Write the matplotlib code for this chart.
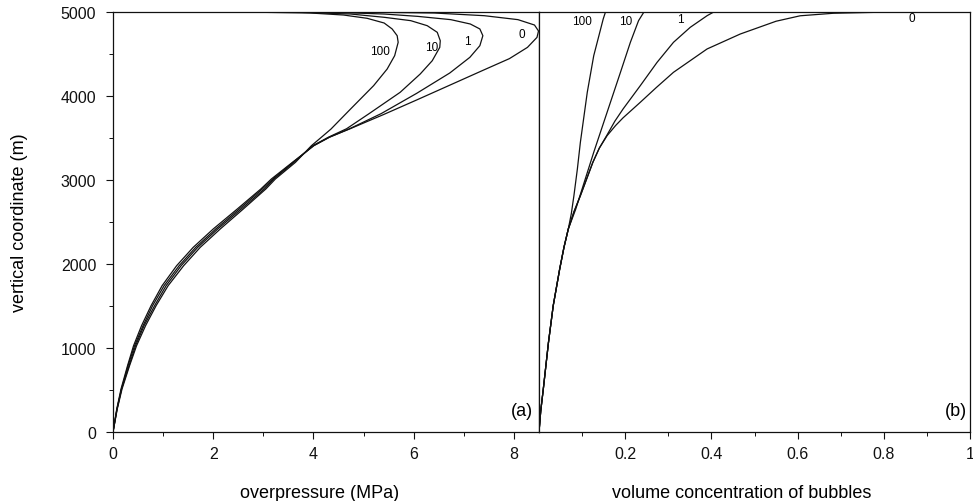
import matplotlib
matplotlib.use("Agg")
import matplotlib.pyplot as plt
from matplotlib.ticker import MultipleLocator

plt.rcParams['font.family'] = ['Liberation Sans', 'DejaVu Sans']

# ---- panel (a): overpressure (MPa) vs vertical coordinate (m) ----
y_low = [0, 274, 512, 789, 1027, 1266, 1504, 1742, 1980, 2198, 2417, 2655, 2893, 3012, 3210]
p0_low = [0, 0.075, 0.16, 0.29, 0.41, 0.57, 0.76, 0.98, 1.27, 1.60, 2.00, 2.48, 2.95, 3.16, 3.58]
p1_low = [0, 0.08, 0.17, 0.30, 0.43, 0.60, 0.79, 1.02, 1.32, 1.65, 2.05, 2.52, 2.98, 3.19, 3.59]
p10_low = [0, 0.08, 0.17, 0.32, 0.45, 0.62, 0.83, 1.06, 1.36, 1.69, 2.09, 2.56, 3.02, 3.21, 3.61]
p100_low = [0, 0.085, 0.18, 0.33, 0.47, 0.65, 0.86, 1.10, 1.41, 1.74, 2.14, 2.60, 3.05, 3.24, 3.64]

y0_up = [3409, 3510, 3610, 3777, 3953, 4129, 4305, 4445, 4579, 4698, 4774, 4845, 4909, 4956, 4988, 4998, 5000]
p0_up = [4.01, 4.32, 4.73, 5.39, 6.06, 6.72, 7.38, 7.91, 8.27, 8.46, 8.49, 8.41, 8.08, 7.41, 6.41, 5.07, 0]
y1_up = [3409, 3510, 3610, 3790, 4032, 4274, 4460, 4599, 4718, 4798, 4857, 4909, 4948, 4976, 4996, 5000]
p1_up = [4.0, 4.32, 4.72, 5.35, 6.06, 6.72, 7.12, 7.32, 7.38, 7.32, 7.13, 6.74, 6.08, 5.41, 4.41, 0]
y10_up = [3409, 3510, 3610, 3786, 4044, 4262, 4420, 4579, 4658, 4758, 4837, 4897, 4937, 4976, 4996, 5000]
p10_up = [3.99, 4.3, 4.66, 5.1, 5.73, 6.13, 6.37, 6.52, 6.53, 6.47, 6.27, 5.94, 5.41, 4.74, 3.74, 0]
y100_up = [3409, 3510, 3607, 3845, 4123, 4321, 4480, 4639, 4718, 4798, 4869, 4925, 4964, 4988, 4997, 5000]
p100_up = [3.96, 4.16, 4.35, 4.74, 5.2, 5.47, 5.62, 5.69, 5.67, 5.57, 5.41, 5.07, 4.6, 3.94, 2.9, 0]

# ---- panel (b): volume concentration of bubbles ----
yb_low = [0, 250, 512, 1068, 1504, 1940, 2200, 2417]
cb_low = [0, 0.004, 0.010, 0.022, 0.033, 0.048, 0.058, 0.068]
y100_b = [2600, 2813, 3130, 3449, 4044, 4480, 4718, 4917, 4996, 5000]
c100_b = [0.075, 0.081, 0.089, 0.096, 0.112, 0.127, 0.139, 0.149, 0.154, 0.145]
y10_b = [2650, 2893, 3330, 3806, 4282, 4639, 4897, 4996, 5000]
c10_b = [0.085, 0.100, 0.127, 0.158, 0.189, 0.212, 0.231, 0.243, 0.22]
y1_b = [2620, 2813, 3211, 3380, 3528, 3700, 3845, 4123, 4401, 4639, 4818, 4956, 4996, 5000]
c1_b = [0.081, 0.096, 0.125, 0.140, 0.157, 0.176, 0.195, 0.235, 0.274, 0.312, 0.351, 0.39, 0.404, 0.365]
y0_b = [2620, 2813, 3211, 3380, 3528, 3650, 3740, 3925, 4100, 4282, 4560, 4738, 4890, 4955, 4985, 4996, 5000]
c0_b = [0.081, 0.096, 0.125, 0.140, 0.158, 0.178, 0.195, 0.235, 0.272, 0.312, 0.39, 0.467, 0.55, 0.606, 0.683, 0.78, 0.86]

curve_names = ['0', '1', '10', '100']
label_pos_a = [(8.16, 4738), (7.08, 4659), (6.35, 4580), (5.32, 4540)]
label_pos_b = [(0.866, 4929), (0.328, 4917), (0.2, 4893), (0.1, 4887)]

fig = plt.figure(figsize=(9.73, 5.02), dpi=100)
ax1 = fig.add_axes([113/973, 69/502, 426/973, 420/502])
ax2 = fig.add_axes([539/973, 69/502, 431/973, 420/502])

lw = 0.9
col = '#111111'
ax1.plot(p0_low + p0_up, y_low + y0_up, color=col, lw=lw)
ax1.plot(p1_low + p1_up, y_low + y1_up, color=col, lw=lw)
ax1.plot(p10_low + p10_up, y_low + y10_up, color=col, lw=lw)
ax1.plot(p100_low + p100_up, y_low + y100_up, color=col, lw=lw)

ax2.plot(cb_low + c0_b, yb_low + y0_b, color=col, lw=lw)
ax2.plot(cb_low + c1_b, yb_low + y1_b, color=col, lw=lw)
ax2.plot(cb_low + c10_b, yb_low + y10_b, color=col, lw=lw)
ax2.plot(cb_low + c100_b, yb_low + y100_b, color=col, lw=lw)

for name, (x, y) in zip(curve_names, label_pos_a):
    ax1.text(x, y, name, fontsize=8.5, ha='center', va='center')
for name, (x, y) in zip(curve_names, label_pos_b):
    ax2.text(x, y, name, fontsize=8.5, ha='center', va='center')

ax1.set_xlim(0, 8.5)
ax2.set_xlim(0, 1)
for ax in (ax1, ax2):
    ax.set_ylim(0, 5000)
    for s in ax.spines.values():
        s.set_linewidth(0.9)
        s.set_color(col)
    ax.tick_params(which='major', direction='out', length=5, width=0.8,
                   labelsize=11.5, pad=5, colors=col)
    ax.tick_params(which='minor', direction='out', length=3, width=0.7, colors=col)

ax1.set_xticks([0, 2, 4, 6, 8])
ax1.xaxis.set_minor_locator(MultipleLocator(1))
ax1.set_yticks([0, 1000, 2000, 3000, 4000, 5000])
ax1.yaxis.set_minor_locator(MultipleLocator(500))
ax1.tick_params(axis='y', pad=7)

ax2.set_xticks([0.2, 0.4, 0.6, 0.8, 1.0])
ax2.set_xticklabels(['0.2', '0.4', '0.6', '0.8', '1'])
ax2.set_xticks([0.1, 0.3, 0.5, 0.7, 0.9], minor=True)
ax2.set_yticks([])

ax1.set_xlabel('overpressure (MPa)', fontsize=13)
ax1.xaxis.set_label_coords(0.485, -0.125)
ax2.set_xlabel('volume concentration of bubbles', fontsize=13)
ax2.xaxis.set_label_coords(0.47, -0.125)
ax1.set_ylabel('vertical coordinate (m)', fontsize=13)
ax1.yaxis.set_label_coords(-0.2, 0.5)

ax1.text(0.985, 0.05, '(a)', transform=ax1.transAxes, fontsize=13, ha='right', va='center')
ax2.text(0.993, 0.05, '(b)', transform=ax2.transAxes, fontsize=13, ha='right', va='center')

fig.savefig('out.png', dpi=100)
